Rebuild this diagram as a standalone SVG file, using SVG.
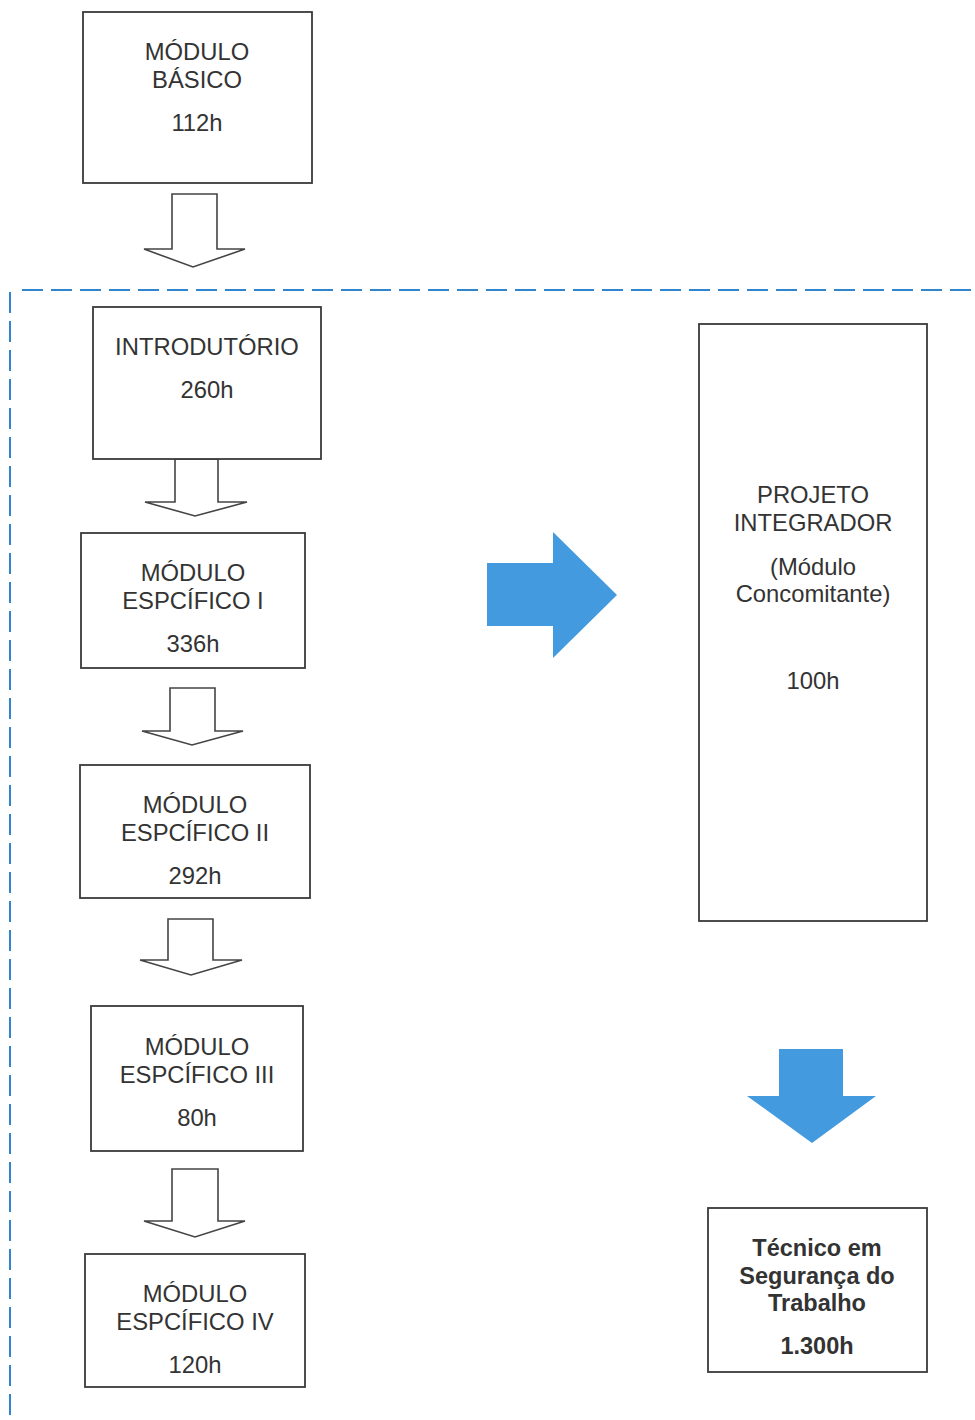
<svg xmlns="http://www.w3.org/2000/svg" width="975" height="1420" viewBox="0 0 975 1420">
<style>
.box{fill:#fff;stroke:#3a3a3a;stroke-width:1.8}
.t{font-family:"Liberation Sans",Arial,sans-serif;font-size:23.8px;fill:#333;text-anchor:middle}
.b{font-weight:bold;font-size:23.5px}
.hollow{fill:#fff;stroke:#444;stroke-width:1.6;stroke-linejoin:miter}
.blue{fill:#449ade}
.dash{fill:none;stroke:#2f86cf;stroke-width:2;stroke-dasharray:21 8}
</style>
<rect width="975" height="1420" fill="#fff"/>
<g id="frame">
<path class="dash" d="M22 290 H975"/>
<path class="dash" d="M10 292 V1420"/>
</g>
<g id="connectors">
<path class="hollow" d="M172 194 H217 V249 H245 L193 267 L144 249 H172 Z"/>
<path class="hollow" d="M175 459 H218 V502 H247 L195 516 L145 502 H175 Z"/>
<path class="hollow" d="M170 688 H215 V731 H243 L192 745 L142 731 H170 Z"/>
<path class="hollow" d="M168 919 H213 V960 H242 L191 975 L140 960 H168 Z"/>
<path class="hollow" d="M172 1169 H218 V1221 H245 L195 1237 L144 1221 H172 Z"/>
<path class="blue" d="M487 563 H553 V532 L617 595 L553 658 V626 H487 Z"/>
<path class="blue" d="M779 1049 H843 V1096 H876 L812 1143 L747 1096 H779 Z"/>
</g>
<g id="modulo-basico">
<rect class="box" x="83" y="12" width="229" height="171"/>
<text class="t" x="197" y="60">MÓDULO</text>
<text class="t" x="197" y="88">BÁSICO</text>
<text class="t" x="197" y="131">112h</text>
</g>
<g id="introdutorio">
<rect class="box" x="93" y="307" width="228" height="152"/>
<text class="t" x="207" y="355">INTRODUTÓRIO</text>
<text class="t" x="207" y="398">260h</text>
</g>
<g id="especifico-1">
<rect class="box" x="81" y="533" width="224" height="135"/>
<text class="t" x="193" y="581">MÓDULO</text>
<text class="t" x="193" y="609">ESPCÍFICO I</text>
<text class="t" x="193" y="652">336h</text>
</g>
<g id="especifico-2">
<rect class="box" x="80" y="765" width="230" height="133"/>
<text class="t" x="195" y="813">MÓDULO</text>
<text class="t" x="195" y="841">ESPCÍFICO II</text>
<text class="t" x="195" y="884">292h</text>
</g>
<g id="especifico-3">
<rect class="box" x="91" y="1006" width="212" height="145"/>
<text class="t" x="197" y="1055">MÓDULO</text>
<text class="t" x="197" y="1083">ESPCÍFICO III</text>
<text class="t" x="197" y="1126">80h</text>
</g>
<g id="especifico-4">
<rect class="box" x="85" y="1254" width="220" height="133"/>
<text class="t" x="195" y="1302">MÓDULO</text>
<text class="t" x="195" y="1330">ESPCÍFICO IV</text>
<text class="t" x="195" y="1373">120h</text>
</g>
<g id="projeto-integrador">
<rect class="box" x="699" y="324" width="228" height="597"/>
<text class="t" x="813" y="503">PROJETO</text>
<text class="t" x="813" y="531">INTEGRADOR</text>
<text class="t" x="813" y="575">(Módulo</text>
<text class="t" x="813" y="602">Concomitante)</text>
<text class="t" x="813" y="689">100h</text>
</g>
<g id="tecnico">
<rect class="box" x="708" y="1208" width="219" height="164"/>
<text class="t b" x="817" y="1256">Técnico em</text>
<text class="t b" x="817" y="1284">Segurança do</text>
<text class="t b" x="817" y="1311">Trabalho</text>
<text class="t b" x="817" y="1354">1.300h</text>
</g>
</svg>
